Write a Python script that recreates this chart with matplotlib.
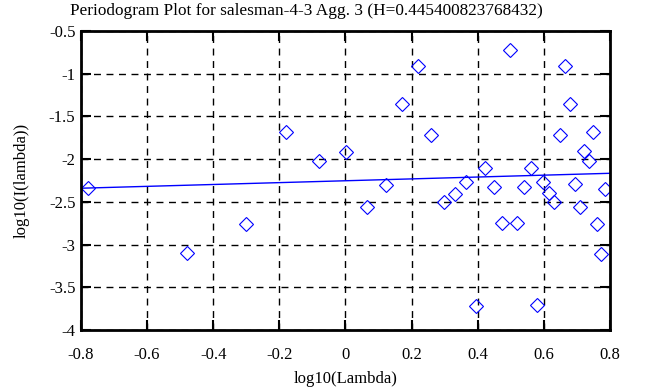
import matplotlib.pyplot as plt
import numpy as np

plt.rcParams['font.family'] = ['Liberation Serif', 'DejaVu Serif']

# log10 of frequency and log10 of periodogram
log_lambda = [-0.780, -0.479, -0.302, -0.179, -0.081, 0.000, 0.064, 0.123,
              0.172, 0.219, 0.260, 0.298, 0.332, 0.364, 0.394, 0.421,
              0.449, 0.474, 0.498, 0.518, 0.540, 0.560, 0.579, 0.597,
              0.616, 0.632, 0.648, 0.664, 0.680, 0.693, 0.708, 0.722,
              0.737, 0.749, 0.761, 0.772, 0.785]
log_I = [-2.342, -3.103, -2.760, -1.679, -2.026, -1.917, -2.557, -2.303,
         -1.358, -0.906, -1.721, -2.502, -2.408, -2.264, -3.717, -2.100,
         -2.323, -2.745, -0.722, -2.745, -2.323, -2.100, -3.712, -2.264,
         -2.400, -2.502, -1.718, -0.906, -1.358, -2.295, -2.557, -1.907,
         -2.016, -1.679, -2.756, -3.108, -2.346]

H = 0.445400823768432
slope = 1 - 2 * H
intercept = -2.253

fig = plt.figure(figsize=(6.63, 3.87), dpi=100)
ax = fig.add_axes([81/663, 1 - 330/387, (610 - 81)/663, (330 - 31)/387])

ax.plot(log_lambda, log_I, 'D', ms=7, mfc='none', mec='blue', mew=0.8)
xl = np.array([-0.8, 0.8])
ax.plot(xl, intercept + slope * xl, color='blue', linewidth=1)

ax.set_xlim(-0.8, 0.8)
ax.set_ylim(-4, -0.5)
ax.set_xticks(np.arange(-0.8, 0.81, 0.2))
ax.set_xticklabels(['-0.8', '-0.6', '-0.4', '-0.2', '0', '0.2', '0.4', '0.6', '0.8'])
ax.set_yticks(np.arange(-4, -0.49, 0.5))
ax.set_yticklabels(['-4', '-3.5', '-3', '-2.5', '-2', '-1.5', '-1', '-0.5'])
ax.grid(True, color='black', linestyle=(0, (5, 4)), linewidth=1)
ax.tick_params(direction='in', top=True, right=True, length=7, width=1.5,
               labelsize=12)
ax.tick_params(axis='x', pad=12)
ax.tick_params(axis='y', pad=4)
for s in ax.spines.values():
    s.set_linewidth(2)

ax.set_xlabel('log10(Lambda)', fontsize=12, labelpad=6)
ax.set_ylabel('log10(I(lambda))', fontsize=12, labelpad=14)
fig.text(306/663, 1 - 11/387,
         'Periodogram Plot for salesman-4-3 Agg. 3 (H=%s)' % repr(H),
         ha='center', va='center', fontsize=12.4)

fig.savefig('out.png', dpi=100)
